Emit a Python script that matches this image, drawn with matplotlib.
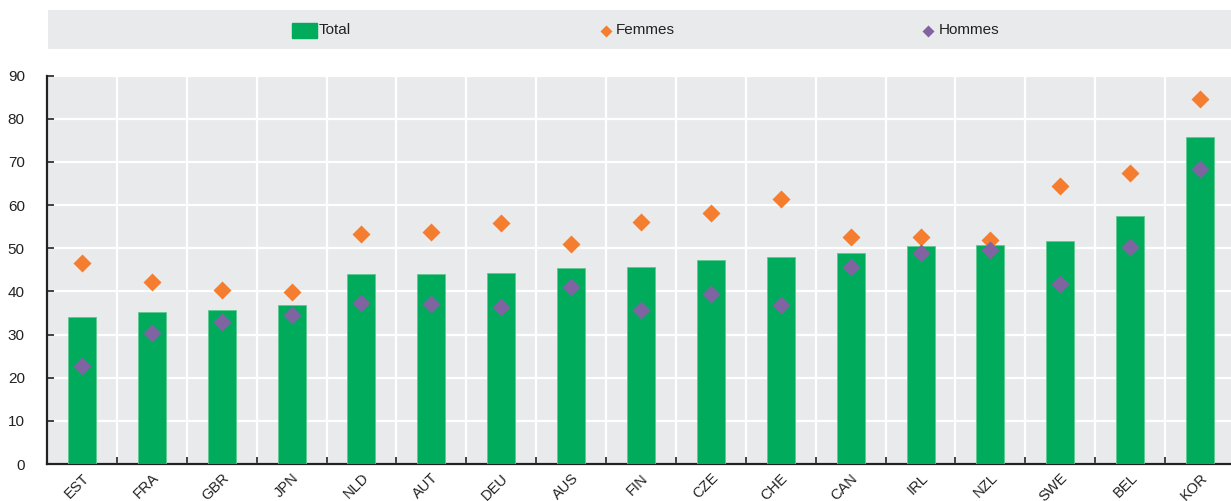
import matplotlib
matplotlib.use("Agg")
import matplotlib.pyplot as plt
from matplotlib.patches import Rectangle
from matplotlib import font_manager

# Data
countries = ["EST", "FRA", "GBR", "JPN", "NLD", "AUT", "DEU", "AUS", "FIN",
             "CZE", "CHE", "CAN", "IRL", "NZL", "SWE", "BEL", "KOR"]
total = [34.0, 35.3, 35.8, 36.9, 44.0, 44.0, 44.3, 45.4, 45.7,
         47.3, 48.0, 48.8, 50.5, 50.8, 51.8, 57.5, 75.7]
femmes = [46.6, 42.1, 40.4, 39.9, 53.2, 53.7, 55.8, 50.9, 56.1,
          58.2, 61.5, 52.7, 52.5, 51.9, 64.5, 67.4, 84.7]
hommes = [22.8, 30.4, 32.8, 34.5, 37.4, 37.2, 36.3, 41.0, 35.6,
          39.5, 36.8, 45.6, 48.8, 49.6, 41.7, 50.4, 68.4]
yticks = list(range(0, 91, 10))

GREEN = "#00AC5C"
ORANGE = "#F47D30"
PURPLE = "#8064A2"
BG = "#E9EAEC"
INK = "#222222"

installed = {f.name for f in font_manager.fontManager.ttflist}
def fam(*names):
    found = [n for n in names if n in installed]
    return found + ["DejaVu Sans"]

regular = fam("Liberation Sans", "Arial")
narrow = fam("Liberation Sans Narrow", "Liberation Sans")
plt.rcParams["font.family"] = regular

W, H = 1231, 501
fig = plt.figure(figsize=(W / 100, H / 100), dpi=100)

# Main plot
ax = fig.add_axes([47 / W, 1 - 464 / H, (1235 - 47) / W, (464 - 75.7) / H])
ax.set_facecolor(BG)
x = list(range(len(countries)))
ax.bar(x, total, width=0.4, color=GREEN, edgecolor="#5fc892", linewidth=0.6, zorder=3)
ax.plot(x, femmes, linestyle="none", marker="D", ms=9.2, color=ORANGE, mec="none", zorder=4)
ax.plot(x, hommes, linestyle="none", marker="D", ms=9.2, color=PURPLE, mec="none", zorder=4)

ax.set_xlim(-0.5, len(countries) - 0.5)
ax.set_ylim(0, 90)
ax.set_yticks(yticks)
ax.set_xticks(x)
ax.set_xticklabels(countries, rotation=45, ha="right", va="top",
                   rotation_mode="anchor", fontsize=10.5, color=INK)
ax.tick_params(axis="x", length=0, pad=5)
ax.set_xticks([i + 0.5 for i in x[:-1]], minor=True)
ax.tick_params(axis="x", which="minor", direction="in", length=5, width=1.2, color=INK)
ax.tick_params(axis="y", direction="in", length=5, width=1.2, color=INK,
               labelsize=11, labelcolor=INK, pad=16)

ax.grid(axis="y", which="major", color="white", linewidth=1.6, zorder=0)
ax.grid(axis="x", which="minor", color="white", linewidth=1.6, zorder=0)
ax.grid(axis="x", which="major", visible=False)
ax.set_axisbelow(True)
for side in ("top", "right"):
    ax.spines[side].set_visible(False)
for side in ("left", "bottom"):
    ax.spines[side].set_color(INK)
    ax.spines[side].set_linewidth(1.6)

# Legend band
lax = fig.add_axes([48 / W, 1 - 49 / H, (W - 48) / W, 39 / H])
lax.set_xlim(48, W)
lax.set_ylim(49, 10)
lax.set_facecolor(BG)
lax.set_xticks([])
lax.set_yticks([])
for s in lax.spines.values():
    s.set_visible(False)
lax.add_patch(Rectangle((292, 22.5), 25, 16, color=GREEN))
lax.text(319, 30.5, "Total", va="center", ha="left", fontsize=11, color=INK, family=narrow)
lax.plot([606], [30.5], marker="D", ms=6.6, color=ORANGE, mec="none")
lax.text(616, 30.5, "Femmes", va="center", ha="left", fontsize=11, color=INK, family=narrow)
lax.plot([928], [30.5], marker="D", ms=6.6, color=PURPLE, mec="none")
lax.text(939, 30.5, "Hommes", va="center", ha="left", fontsize=11, color=INK, family=narrow)

fig.savefig("out.png", dpi=100)
